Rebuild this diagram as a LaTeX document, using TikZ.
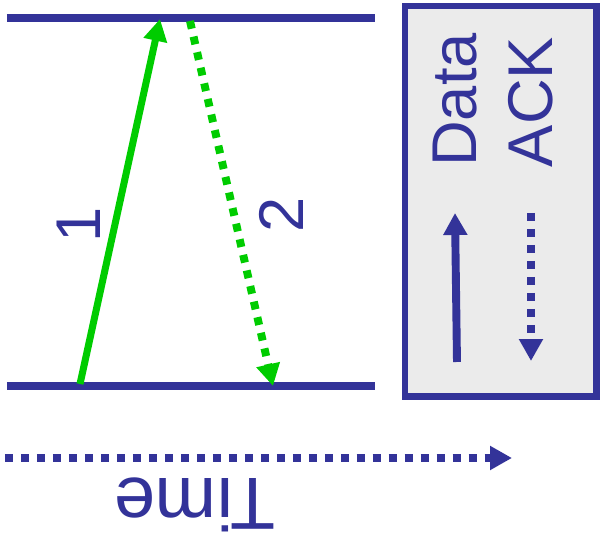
\documentclass[tikz,border=0pt]{standalone}
\usepackage{fontspec}
\setmainfont{Liberation Sans}
\usetikzlibrary{arrows.meta}
\definecolor{wire}{HTML}{333399}
\definecolor{packet}{HTML}{00CC00}
\definecolor{panel}{HTML}{EBEBEB}

\begin{document}
\begin{tikzpicture}[
    x=0.02cm, y=-0.02cm,
    link/.style={wire, line width=4.4pt},
    msg/.style={-{Triangle[length=12.5pt,width=13pt]}, line width=4pt},
    dots/.style={line width=4.5pt, dash pattern=on 4.5pt off 4.6pt},
    lbl/.style={text=wire, font=\fontsize{36}{40}\selectfont, inner sep=0pt}
]
\useasboundingbox (0,0) rectangle (600,543);

% the two links
\coordinate (topL) at (7,18);
\coordinate (topR) at (375,18);
\coordinate (botL) at (7,386);
\coordinate (botR) at (375,386);
\draw[link] (topL) -- (topR);
\draw[link] (botL) -- (botR);

% data and ack
\coordinate (sendA) at (80,384);
\coordinate (recvA) at (160,19);
\coordinate (sendB) at (190,21);
\coordinate (recvB) at (273,386);
\draw[msg, packet] (sendA) -- (recvA);
\draw[msg, packet, dots] (sendB) -- (recvB);
\node[lbl, rotate=90] (one) at (79,225) {1};
\node[lbl, rotate=90] (two) at (281,215) {2};

% legend
\node[draw=wire, line width=3.6pt, fill=panel, minimum width=3.83cm, minimum height=7.81cm] (legend) at (500.75,201.25) {};
\node[lbl, rotate=90] (data) at (455,100) {Data};
\node[lbl, rotate=90] (ack) at (531,102) {ACK};
\coordinate (dataFrom) at (457,362);
\coordinate (dataTo) at (455,213);
\coordinate (ackFrom) at (531,213);
\coordinate (ackTo) at (531,361);
\draw[msg, wire, line width=4.5pt] (dataFrom) -- (dataTo);
\draw[msg, wire, dots] (ackFrom) -- (ackTo);

% time axis
\coordinate (tStart) at (5,458);
\coordinate (tEnd) at (512,458);
\draw[msg, wire, dots] (tStart) -- (tEnd);
\node[lbl, rotate=180, font=\fontsize{42}{46}\selectfont] (time) at (195,505) {Time};

\end{tikzpicture}
\end{document}
